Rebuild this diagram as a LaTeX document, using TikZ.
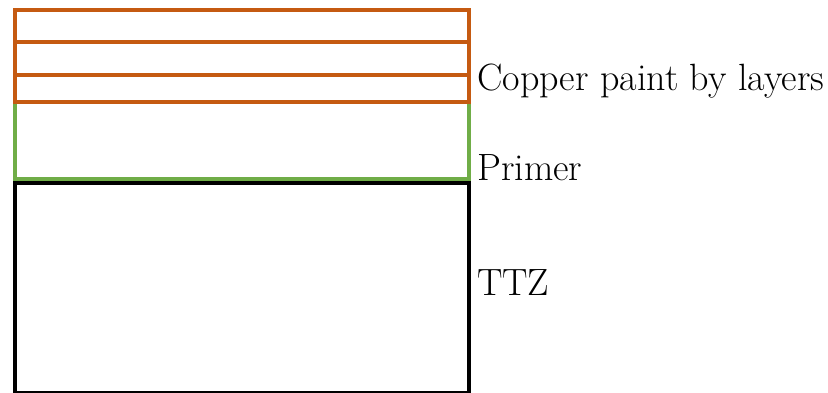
\documentclass[tikz,border=0pt]{standalone}
\definecolor{cu}{HTML}{C55A11}
\definecolor{pr}{HTML}{70AD47}
\begin{document}
\begin{tikzpicture}[x=1pt,y=-1pt,
  culine/.style={draw=cu,line width=3.5pt},
  prline/.style={draw=pr,line width=3.5pt},
  ttzline/.style={draw=black,line width=4pt},
  lbl/.style={anchor=base west,inner sep=0pt,font=\fontsize{38}{40}\selectfont}]
\useasboundingbox (0,0) rectangle (828,392);
\draw[prline] (15,102) rectangle (469,179);
\draw[culine] (15,75) rectangle (469,102);
\draw[culine] (15,42) rectangle (469,75);
\draw[culine] (15,10) rectangle (469,42);
\draw[ttzline] (15,183) rectangle (469,393);
\node[lbl] (cu) at (477,90) {Copper paint by layers};
\node[lbl] (pr) at (477,180) {Primer};
\node[lbl] (ttz) at (477,295) {TTZ};
\end{tikzpicture}
\end{document}
